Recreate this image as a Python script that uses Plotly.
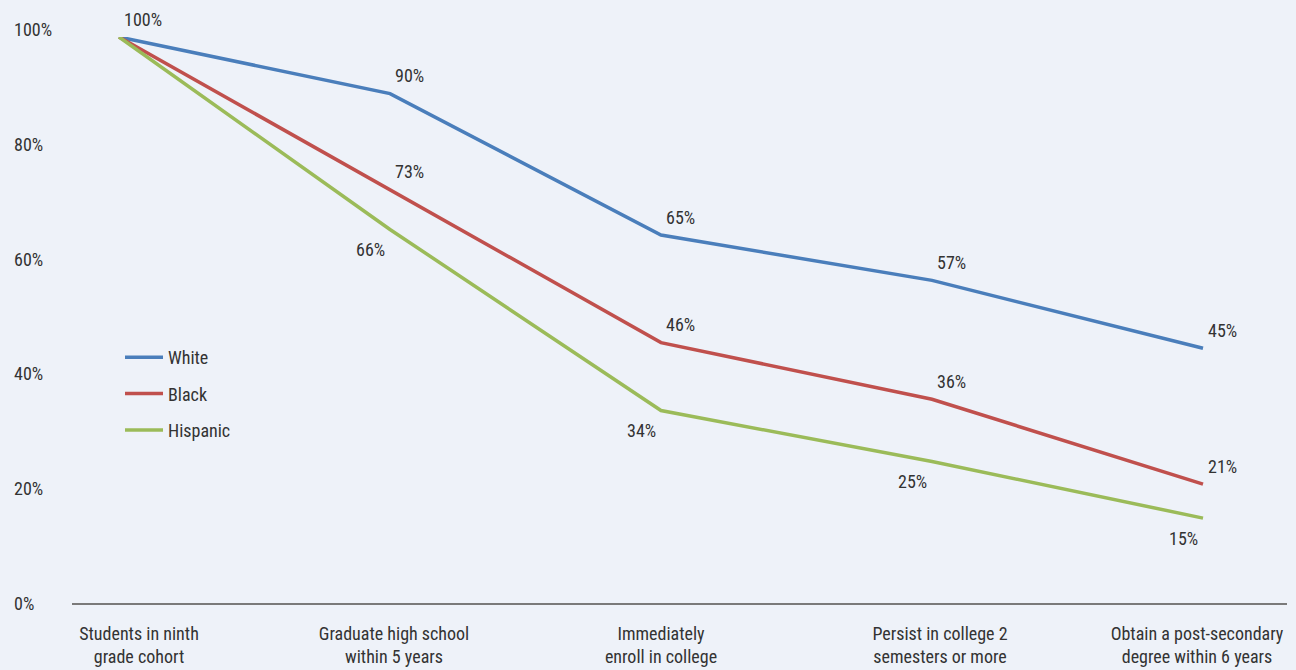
import plotly.graph_objects as go

categories = [
    "Students in ninth<br>grade cohort",
    "Graduate high school<br>within 5 years",
    "Immediately<br>enroll in college",
    "Persist in college 2<br>semesters or more",
    "Obtain a post-secondary<br>degree within 6 years",
]
white = [100, 90, 65, 57, 45]
black = [100, 73, 46, 36, 21]
hispanic = [100, 66, 34, 25, 15]
y_ticks = [0, 20, 40, 60, 80, 100]

FONT = "Roboto Condensed, Liberation Sans Narrow, DejaVu Sans Condensed, Arial Narrow, sans-serif"
TXT = "#333333"
BG = "#EEF2F9"
FS = 18

x = list(range(len(categories)))

fig = go.Figure()
series = [
    ("White", white, "#4A7EBB", "above", False),
    ("Black", black, "#C0504D", "above", True),
    ("Hispanic", hispanic, "#9BBB59", "below", True),
]
for name, vals, col, pos, skip in series:
    fig.add_trace(go.Scatter(
        x=x, y=vals, name=name, mode="lines",
        line=dict(color=col, width=3.5),
        cliponaxis=False, legendgroup=name, hoverinfo="x+y",
    ))
    for i, v in enumerate(vals):
        if i == 0 and skip:
            continue
        if pos == "above":
            fig.add_annotation(x=x[i], y=v, text=f"{v}%", showarrow=False,
                               xanchor="left", yanchor="middle", xshift=3, yshift=18,
                               font=dict(family=FONT, size=FS, color=TXT))
        else:
            fig.add_annotation(x=x[i], y=v, text=f"{v}%", showarrow=False,
                               xanchor="right", yanchor="middle", xshift=-3, yshift=-20,
                               font=dict(family=FONT, size=FS, color=TXT))

L, R, T, B = 72, 9, 37, 67
W, H = 1296, 670
pw = W - L - R
ph = H - T - B
# x scale: category 0 at px 119, spacing 271 px
x_origin, unit = 119, 271
x0 = (L - x_origin) / unit
x1 = (W - R - x_origin) / unit
label_px = [139, 394, 661, 940, 1197]
tickvals = [(p - x_origin) / unit for p in label_px]

fig.update_layout(
    width=W, height=H,
    margin=dict(l=L, r=R, t=T, b=B, autoexpand=False),
    paper_bgcolor=BG, plot_bgcolor=BG,
    font=dict(family=FONT, size=FS, color=TXT),
    showlegend=True,
    legend=dict(x=(120 - L) / pw, y=(H - B - 339) / ph, xanchor="left", yanchor="top",
                bgcolor="rgba(0,0,0,0)", tracegroupgap=10, itemwidth=38,
                font=dict(family=FONT, size=FS, color=TXT)),
    xaxis=dict(range=[x0, x1], tickvals=tickvals, ticktext=categories,
               showgrid=False, zeroline=False, showline=True, automargin=False,
               linecolor="#7a7a7a", linewidth=2, ticks="",
               ticklabelstandoff=13,
               tickfont=dict(family=FONT, size=FS, color=TXT)),
    yaxis=dict(range=[0, 100], showgrid=False, zeroline=False, showline=False,
               showticklabels=False, ticks="", automargin=False),
)
# y tick labels: 100% label at px 30, 0% label at px 603
for v in y_ticks:
    py = 603 - v / 100 * 573
    fig.add_annotation(x=(12 - L) / pw, xref="paper", y=(H - B - py) / ph, yref="paper",
                       text=f"{v}%", showarrow=False, xanchor="left", yanchor="middle",
                       font=dict(family=FONT, size=FS, color=TXT))

fig.write_html("out.html")
